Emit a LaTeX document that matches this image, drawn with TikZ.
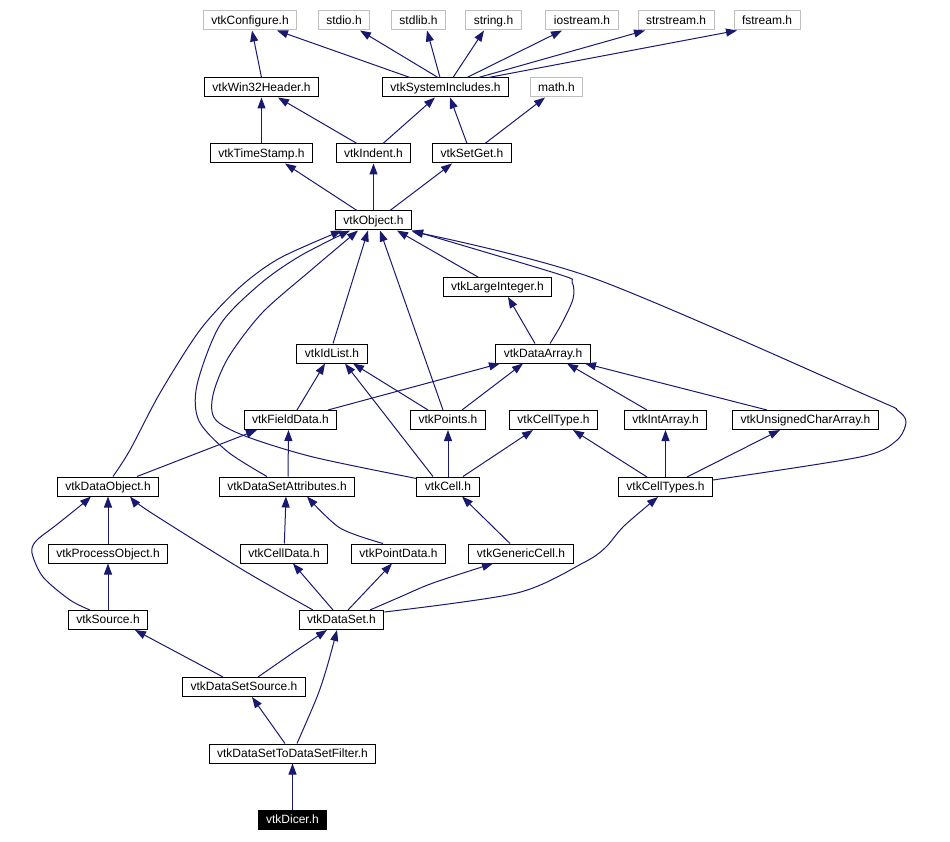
\documentclass[tikz,border=0pt]{standalone}
\usepackage{fontspec}
\setmainfont{Liberation Sans}
\usetikzlibrary{arrows.meta}
\definecolor{azulnoche}{HTML}{191970}
\definecolor{grisborde}{HTML}{BFBFBF}
\tikzset{
  cabecera/.style={rectangle, draw=black, fill=white, line width=1pt, minimum height=19pt,
                   inner xsep=8pt, inner ysep=0pt, text height=9pt, text depth=1.5pt,
                   font=\fontsize{12}{14}\selectfont},
  cabecerasis/.style={cabecera, draw=grisborde},
  cabeceraact/.style={cabecera, fill=black, text=white},
  incluye/.style={line width=1pt, color=azulnoche, -{Triangle[length=11pt, width=8pt]}}
}

\begin{document}
\begin{tikzpicture}[x=1pt, y=-1pt]
  \useasboundingbox (0,0) rectangle (950,842);
  \node (cfg) [cabecerasis] at (250,20.5) {vtkConfigure.h};
  \node (stdio) [cabecerasis] at (344,20.5) {stdio.h};
  \node (stdlib) [cabecerasis] at (418.5,20.5) {stdlib.h};
  \node (string) [cabecerasis] at (493.5,20.5) {string.h};
  \node (iostream) [cabecerasis] at (582,20.5) {iostream.h};
  \node (strstream) [cabecerasis] at (676,20.5) {strstream.h};
  \node (fstream) [cabecerasis] at (767,20.5) {fstream.h};
  \node (win32) [cabecera] at (261.5,87.5) {vtkWin32Header.h};
  \node (sysinc) [cabecera] at (445.5,87.5) {vtkSystemIncludes.h};
  \node (math) [cabecerasis] at (556.5,87.5) {math.h};
  \node (tstamp) [cabecera] at (261.5,153.5) {vtkTimeStamp.h};
  \node (indent) [cabecera] at (373.5,153.5) {vtkIndent.h};
  \node (setget) [cabecera] at (472,153.5) {vtkSetGet.h};
  \node (obj) [cabecera] at (373.5,220.5) {vtkObject.h};
  \node (largeint) [cabecera] at (497.5,287) {vtkLargeInteger.h};
  \node (idlist) [cabecera] at (332,353.5) {vtkIdList.h};
  \node (darray) [cabecera] at (543,353.5) {vtkDataArray.h};
  \node (fdata) [cabecera] at (290.5,420) {vtkFieldData.h};
  \node (points) [cabecera] at (448,420) {vtkPoints.h};
  \node (celltype) [cabecera] at (553.5,420) {vtkCellType.h};
  \node (intarray) [cabecera] at (665.5,420) {vtkIntArray.h};
  \node (ucarray) [cabecera] at (805.5,420) {vtkUnsignedCharArray.h};
  \node (dobj) [cabecera] at (108,486.5) {vtkDataObject.h};
  \node (dsattr) [cabecera] at (287,486.5) {vtkDataSetAttributes.h};
  \node (cell) [cabecera] at (448,486.5) {vtkCell.h};
  \node (celltypes) [cabecera] at (665.5,487) {vtkCellTypes.h};
  \node (procobj) [cabecera] at (108,553.5) {vtkProcessObject.h};
  \node (celldata) [cabecera] at (284,553.5) {vtkCellData.h};
  \node (pointdata) [cabecera] at (398.5,553.5) {vtkPointData.h};
  \node (gencell) [cabecera] at (521,553.5) {vtkGenericCell.h};
  \node (source) [cabecera] at (108,620) {vtkSource.h};
  \node (dataset) [cabecera] at (341.5,620) {vtkDataSet.h};
  \node (dssource) [cabecera] at (244,687) {vtkDataSetSource.h};
  \node (dsfilter) [cabecera] at (292.5,753.5) {vtkDataSetToDataSetFilter.h};
  \node (dicer) [cabeceraact] at (292.5,820) {vtkDicer.h};
  % cabeceras del sistema
  \draw [incluye] (win32.north) -- ([xshift=2pt]cfg.south);
  \draw [incluye] ([xshift=-35.5pt]sysinc.north) -- ([xshift=27pt]cfg.south);
  \draw [incluye] ([xshift=-7.5pt]sysinc.north) -- ([xshift=16pt]stdio.south);
  \draw [incluye] ([xshift=-5.5pt]sysinc.north) -- ([xshift=8.5pt]stdlib.south);
  \draw [incluye] ([xshift=7.5pt]sysinc.north) -- ([xshift=-9.5pt]string.south);
  \draw [incluye] ([xshift=21.5pt]sysinc.north) -- ([xshift=-20pt]iostream.south);
  \draw [incluye] ([xshift=33pt]sysinc.north) -- ([xshift=-31pt]strstream.south);
  \draw [incluye] ([xshift=43pt]sysinc.north) -- ([xshift=-30pt]fstream.south);
  \draw [incluye] (tstamp) -- (win32);
  \draw [incluye] ([xshift=-16.5pt]indent.north) -- ([xshift=16.5pt]win32.south);
  \draw [incluye] ([xshift=9.5pt]indent.north) -- ([xshift=-10.5pt]sysinc.south);
  \draw [incluye] ([xshift=-5pt]setget.north) -- ([xshift=4.5pt]sysinc.south);
  \draw [incluye] ([xshift=13pt]setget.north) -- ([xshift=-11.5pt]math.south);
  \draw [incluye] ([xshift=-16.5pt]obj.north) -- ([xshift=23.5pt]tstamp.south);
  \draw [incluye] (obj) -- (indent);
  \draw [incluye] ([xshift=16.5pt]obj.north) -- ([xshift=-20pt]setget.south);
  % vtkObject
  \draw [incluye] ([xshift=-19.5pt]largeint.north) -- ([xshift=23.5pt]obj.south);
  \draw [incluye] plot [smooth] coordinates {([xshift=7pt]darray.north) (561,325) (573,299) (572,282) (558,274) (obj.south east)};
  \draw [incluye] plot [smooth] coordinates {([yshift=-3pt]celltypes.north east) (860,457) (896,441) (906,422) (897,410) (868,396) (593,278) ([yshift=-1pt]obj.south east)};
  \draw [incluye] ([xshift=1pt]idlist.north) -- ([xshift=-5.5pt]obj.south);
  \draw [incluye] ([xshift=-5pt]points.north) -- ([xshift=6.5pt]obj.south);
  \draw [incluye] plot [smooth] coordinates {([xshift=5pt]dobj.north) (130,450) (160,393) (200,330) (240,287) (280,258) ([xshift=-31.5pt]obj.south)};
  \draw [incluye] plot [smooth] coordinates {([xshift=-20pt]dsattr.north) (228,452) (199,421) (197,385) (220,325) (260,284) (300,256) ([xshift=-23.5pt]obj.south)};
  \draw [incluye] plot [smooth] coordinates {([yshift=-2pt]cell.north west) (313,457) (245,436) (215,419) (213,395) (228,358) (262,313) (310,271) ([xshift=-15.5pt]obj.south)};
  % arreglos y listas
  \draw [incluye] ([xshift=-8pt]darray.north) -- ([xshift=10.5pt]largeint.south);
  \draw [incluye] ([xshift=6.5pt]fdata.north) -- ([xshift=-7pt]idlist.south);
  \draw [incluye] ([xshift=37.5pt]fdata.north) -- ([xshift=-43pt]darray.south);
  \draw [incluye] ([xshift=-20pt]points.north) -- ([xshift=21pt]idlist.south);
  \draw [incluye] ([xshift=-15pt]cell.north) -- ([xshift=13pt]idlist.south);
  \draw [incluye] ([xshift=14pt]points.north) -- ([xshift=-20pt]darray.south);
  \draw [incluye] ([xshift=-18.5pt]intarray.north) -- ([xshift=24pt]darray.south);
  \draw [incluye] ([xshift=-38.5pt]ucarray.north) -- ([xshift=42pt]darray.south);
  \draw [incluye] ([xshift=29pt]dobj.north) -- ([xshift=-33.5pt]fdata.south);
  \draw [incluye] ([xshift=1pt]dsattr.north) -- ([xshift=-2pt]fdata.south);
  \draw [incluye] (cell) -- (points);
  \draw [incluye] ([xshift=15pt]cell.north) -- ([xshift=-20.5pt]celltype.south);
  \draw [incluye] ([xshift=-18.5pt]celltypes.north) -- ([xshift=19.5pt]celltype.south);
  \draw [incluye] (celltypes) -- (intarray);
  \draw [incluye] ([xshift=21.5pt]celltypes.north) -- ([xshift=-25.5pt]ucarray.south);
  % fuentes y conjuntos de datos
  \draw [incluye] (procobj) -- (dobj);
  \draw [incluye] plot [smooth] coordinates {([xshift=-18pt]source.north) (70,600) (43,577) (32,553) (36,541) (55,526) (80,506) ([xshift=-17pt]dobj.south)};
  \draw [incluye] (source) -- (procobj);
  \draw [incluye] plot [smooth] coordinates {([xshift=-28.5pt]dataset.north) (243,570) (150,512) ([xshift=22pt]dobj.south)};
  \draw [incluye] (celldata) -- ([xshift=-1pt]dsattr.south);
  \draw [incluye] plot [smooth] coordinates {([xshift=-15.5pt]pointdata.north) (340,528) ([xshift=20pt]dsattr.south)};
  \draw [incluye] ([xshift=-11pt]gencell.north) -- ([xshift=14pt]cell.south);
  \draw [incluye] ([xshift=-8.5pt]dataset.north) -- ([xshift=9pt]celldata.south);
  \draw [incluye] ([xshift=6.5pt]dataset.north) -- ([xshift=-6.5pt]pointdata.south);
  \draw [incluye] plot [smooth] coordinates {([xshift=28.5pt]dataset.north) (400,597) (433,583) ([xshift=-28pt]gencell.south)};
  \draw [incluye] plot [smooth] coordinates {([yshift=-2pt]dataset.north east) (517,593) (583,563) (605,548) (624,526) ([xshift=-7.5pt]celltypes.south)};
  \draw [incluye] ([xshift=-21pt]dssource.north) -- ([xshift=27pt]source.south);
  \draw [incluye] plot [smooth] coordinates {([xshift=14pt]dssource.north) (297,650) ([xshift=-14.5pt]dataset.south)};
  \draw [incluye] ([xshift=-7.5pt]dsfilter.north) -- ([xshift=8pt]dssource.south);
  \draw [incluye] plot [smooth] coordinates {([xshift=4.5pt]dsfilter.north) (317,697) (327,667) ([xshift=-4.5pt]dataset.south)};
  \draw [incluye] (dicer) -- (dsfilter);
\end{tikzpicture}
\end{document}
